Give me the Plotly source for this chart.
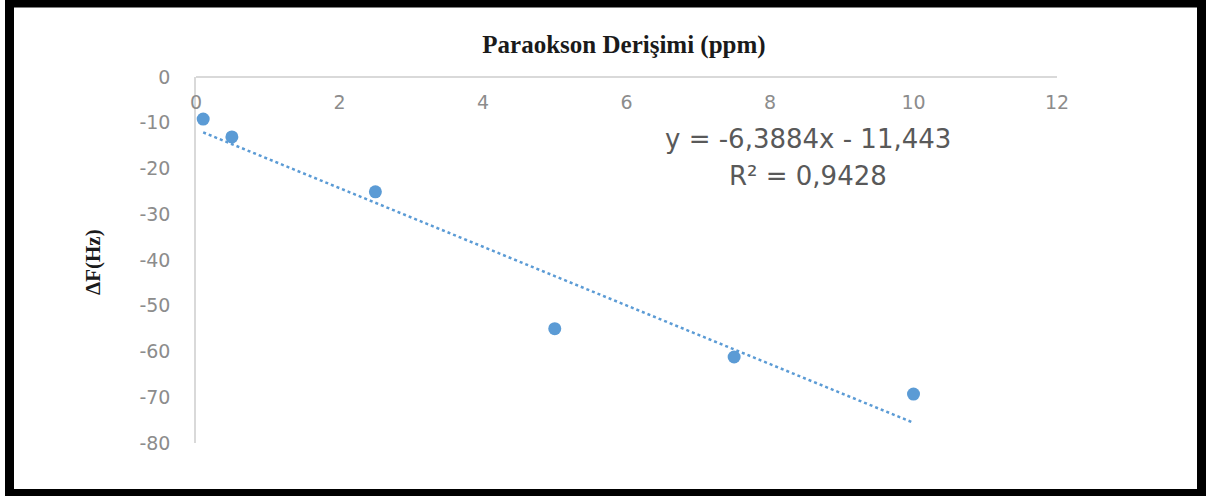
import numpy as np
import plotly.graph_objects as go

# Data
conc_ppm = [0.1, 0.5, 2.5, 5.0, 7.5, 10.0]
delta_f_hz = [-9.2, -13.1, -25.1, -55.0, -61.2, -69.3]
x_ticks = [0, 2, 4, 6, 8, 10, 12]
y_ticks = [0, -10, -20, -30, -40, -50, -60, -70, -80]
title_text = "Paraokson Derişimi (ppm)"
ytitle_text = "ΔF(Hz)"
eq_text = "y = -6,3884x - 11,443"
r2_text = "R² = 0,9428"

W, H = 1206, 496
ML, MR, MT, MB = 196, 149, 77, 53
PW, PH = W - ML - MR, H - MT - MB

def px(xpix):
    return (xpix - ML) / PW

def py(ypix):
    return 1 - (ypix - MT) / PH

# Linear trendline fitted on the data
slope, intercept = np.polyfit(conc_ppm, delta_f_hz, 1)
tx = [min(conc_ppm), max(conc_ppm)]
ty = [slope * v + intercept for v in tx]

blue = "#5B9BD5"
tick_col = "#8C8C8C"

fig = go.Figure()
fig.add_trace(go.Scatter(
    x=tx, y=ty, mode="lines",
    line=dict(color=blue, width=2.5, dash="dot"),
    hoverinfo="skip", showlegend=False,
))
fig.add_trace(go.Scatter(
    x=conc_ppm, y=delta_f_hz, mode="markers",
    marker=dict(color=blue, size=13),
    showlegend=False,
))

fig.update_layout(
    width=W, height=H,
    margin=dict(l=ML, r=MR, t=MT, b=MB),
    paper_bgcolor="white", plot_bgcolor="white",
    title=dict(
        text="<b>" + title_text + "</b>",
        x=624 / W, y=1 - 44 / H, xref="container", yref="container",
        xanchor="center", yanchor="middle",
        font=dict(family="Liberation Serif", size=25, color="#1a1a1a"),
    ),
    xaxis=dict(
        range=[0, 12], side="bottom", anchor="free", position=1,
        tickvals=x_ticks, ticktext=[str(v) for v in x_ticks],
        ticklabelstandoff=8,
        showgrid=False, zeroline=False, ticks="",
        showline=True, linecolor="#D9D9D9", linewidth=1.5,
        tickfont=dict(family="DejaVu Sans", size=19, color=tick_col),
    ),
    yaxis=dict(
        range=[-80, 0], domain=[0, 1], tickvals=y_ticks,
        ticktext=[str(v) for v in y_ticks],
        ticklabelstandoff=20,
        showgrid=False, zeroline=False, ticks="",
        showline=True, linecolor="#D9D9D9", linewidth=1.5,
        tickfont=dict(family="DejaVu Sans", size=19, color=tick_col),
    ),
    annotations=[
        dict(text="<b>" + ytitle_text + "</b>", xref="paper", yref="paper",
             x=px(93), y=py(262), textangle=-90, showarrow=False,
             xanchor="center", yanchor="middle",
             font=dict(family="Liberation Serif", size=21, color="#1a1a1a")),
        dict(text=eq_text, xref="paper", yref="paper",
             x=px(808), y=py(139), showarrow=False,
             xanchor="center", yanchor="middle",
             font=dict(family="DejaVu Sans", size=26, color="#595959")),
        dict(text=r2_text, xref="paper", yref="paper",
             x=px(808), y=py(176), showarrow=False,
             xanchor="center", yanchor="middle",
             font=dict(family="DejaVu Sans", size=26, color="#595959")),
    ],
    shapes=[
        dict(type="rect", xref="paper", yref="paper",
             x0=px(9.5), x1=px(1201.5), y0=py(493.5), y1=py(3),
             line=dict(color="black", width=9), fillcolor="rgba(0,0,0,0)",
             layer="above"),
    ],
)

fig.write_html("out.html")
